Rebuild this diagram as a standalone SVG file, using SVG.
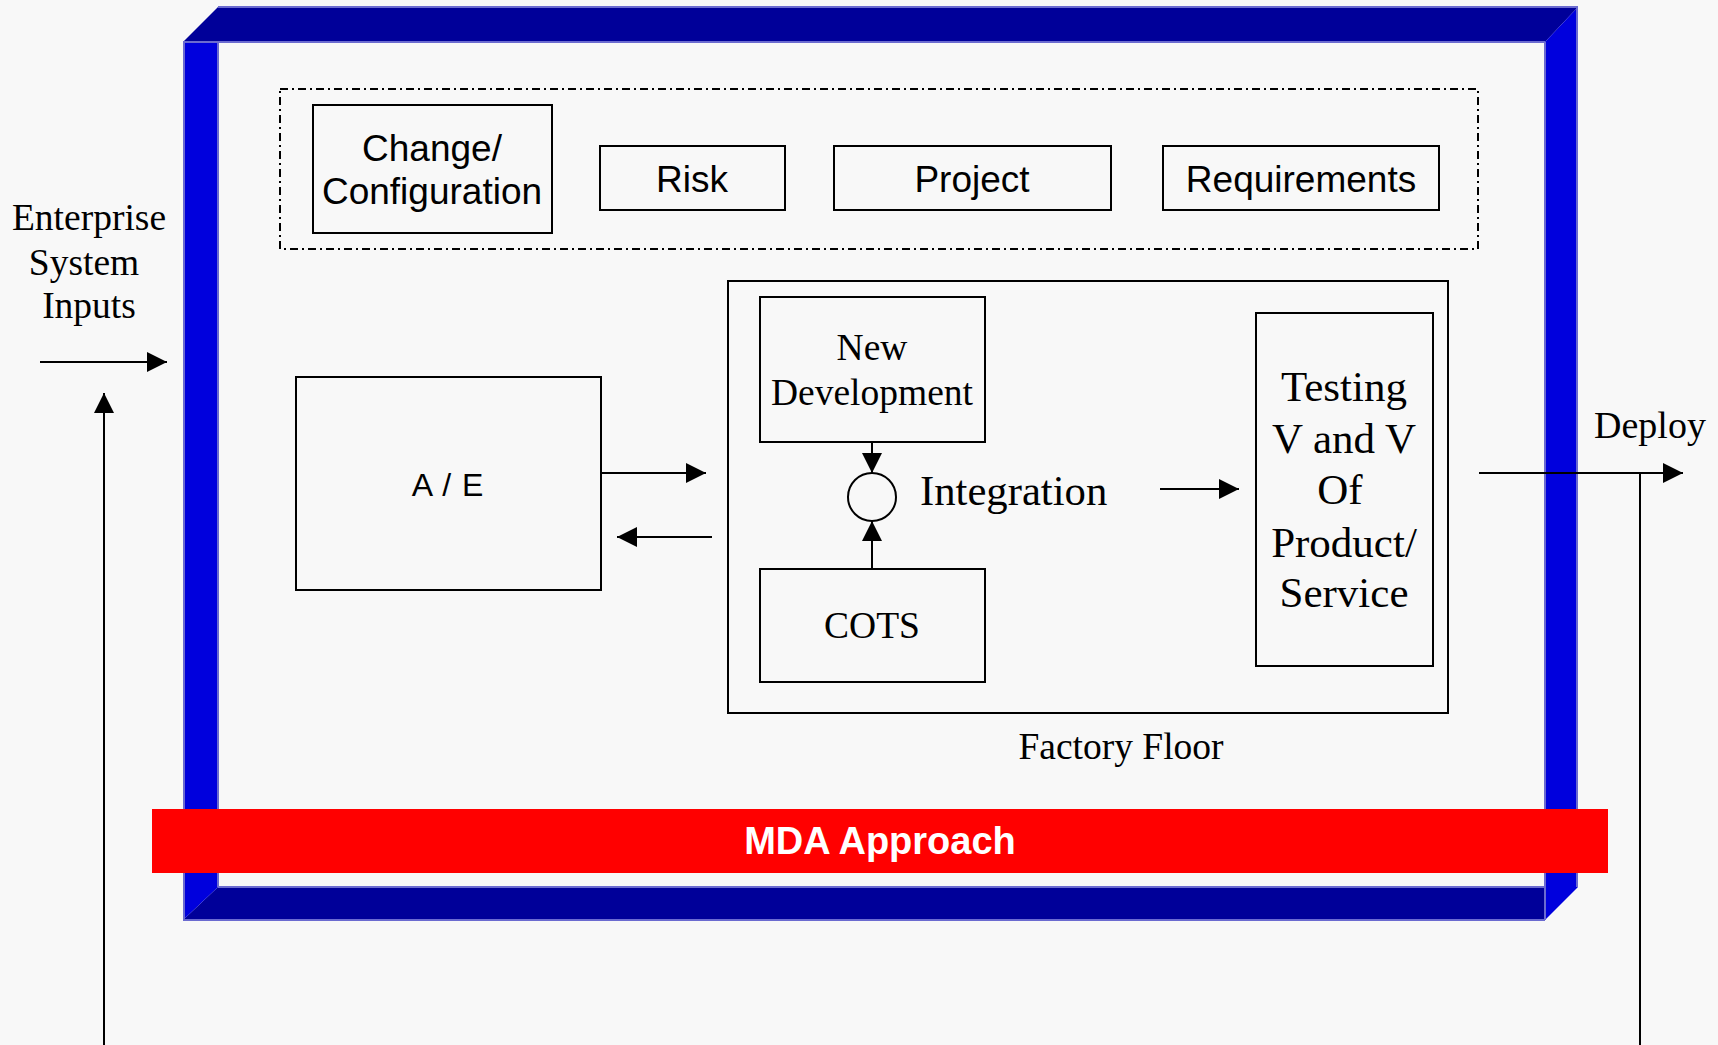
<svg xmlns="http://www.w3.org/2000/svg" width="1718" height="1045" viewBox="0 0 1718 1045">
  <style>
    .box { fill: none; stroke: #000; stroke-width: 2; }
    .wire { fill: none; stroke: #000; stroke-width: 2; }
    .sans { font-family: "Liberation Sans", Arial, sans-serif; fill: #000; }
    .serif { font-family: "Liberation Serif", "Times New Roman", serif; fill: #000; }
    .mid { text-anchor: middle; }
    .edge { stroke: #6b6bd0; stroke-width: 2; }
  </style>
  <defs>
    <marker id="arrow" viewBox="0 0 20 20" refX="20" refY="10" markerWidth="20" markerHeight="20" markerUnits="userSpaceOnUse" orient="auto">
      <path d="M0,0 L20,10 L0,20 Z" fill="#000"/>
    </marker>
  </defs>

  <rect x="0" y="0" width="1718" height="1045" fill="#f8f8f8"/>

  <!-- bevelled blue frame -->
  <g id="frame">
    <polygon points="183,42 218,7 1578,7 1545,42" fill="#000099"/>
    <polygon points="218,887 1545,887 1545,920 183,920" fill="#000099"/>
    <polygon points="183,42 218,42 218,887 183,920" fill="#0000dd"/>
    <polygon points="1545,42 1578,7 1578,887 1545,920" fill="#0000dd"/>
    <line class="edge" x1="183" y1="42" x2="1545" y2="42"/>
    <line class="edge" x1="184" y1="42" x2="184" y2="921"/>
    <line class="edge" x1="183" y1="920" x2="1545" y2="920"/>
    <line class="edge" x1="1545" y1="42" x2="1545" y2="920"/>
    <line class="edge" x1="1577" y1="7" x2="1577" y2="887"/>
    <line class="edge" x1="218" y1="7" x2="1578" y2="7"/>
    <line class="edge" x1="218" y1="42" x2="218" y2="887"/>
    <line class="edge" x1="218" y1="887" x2="1545" y2="887"/>
  </g>

  <!-- management group -->
  <g id="management">
    <rect x="280" y="89" width="1198" height="160" fill="none" stroke="#000" stroke-width="2" stroke-dasharray="8 4 2 4"/>
  </g>
  <g id="change-configuration">
    <rect class="box" x="313" y="105" width="239" height="128"/>
    <text class="sans mid" x="432" y="161" font-size="37">Change/</text>
    <text class="sans mid" x="432" y="204" font-size="37">Configuration</text>
  </g>
  <g id="risk">
    <rect class="box" x="600" y="146" width="185" height="64"/>
    <text class="sans mid" x="692" y="192" font-size="37">Risk</text>
  </g>
  <g id="project">
    <rect class="box" x="834" y="146" width="277" height="64"/>
    <text class="sans mid" x="972" y="192" font-size="37">Project</text>
  </g>
  <g id="requirements">
    <rect class="box" x="1163" y="146" width="276" height="64"/>
    <text class="sans mid" x="1301" y="192" font-size="37">Requirements</text>
  </g>

  <!-- inputs label -->
  <g id="enterprise-inputs">
    <text class="serif mid" x="89" y="230" font-size="37.5">Enterprise</text>
    <text class="serif mid" x="84" y="275" font-size="37.5">System</text>
    <text class="serif mid" x="89" y="318" font-size="37.5">Inputs</text>
  </g>

  <g id="ae">
    <rect class="box" x="296" y="377" width="305" height="213"/>
    <text class="sans mid" x="448" y="496" font-size="32" letter-spacing="1">A / E</text>
  </g>

  <!-- factory floor -->
  <g id="factory-floor">
    <rect class="box" x="728" y="281" width="720" height="432"/>
    <text class="serif mid" x="1121" y="759" font-size="37.5">Factory Floor</text>
  </g>
  <g id="new-development">
    <rect class="box" x="760" y="297" width="225" height="145"/>
    <text class="serif mid" x="872" y="360" font-size="37.5">New</text>
    <text class="serif mid" x="872" y="405" font-size="37.5">Development</text>
  </g>
  <g id="integration">
    <circle cx="872" cy="497" r="24" fill="none" stroke="#000" stroke-width="2"/>
    <text class="serif" x="920" y="505" font-size="42.7">Integration</text>
  </g>
  <g id="cots">
    <rect class="box" x="760" y="569" width="225" height="113"/>
    <text class="serif mid" x="872" y="638" font-size="37.5">COTS</text>
  </g>
  <g id="testing">
    <rect class="box" x="1256" y="313" width="177" height="353"/>
    <text class="serif mid" x="1344" y="401" font-size="43">Testing</text>
    <text class="serif mid" x="1344" y="453" font-size="43">V and V</text>
    <text class="serif mid" x="1340" y="504" font-size="43">Of</text>
    <text class="serif mid" x="1344" y="557" font-size="43">Product/</text>
    <text class="serif mid" x="1344" y="607" font-size="43">Service</text>
  </g>

  <g id="deploy">
    <text class="serif mid" x="1650" y="438" font-size="38">Deploy</text>
  </g>

  <!-- MDA band -->
  <g id="mda-approach">
    <rect x="152" y="809" width="1456" height="64" fill="#ff0000"/>
    <text x="880" y="854" font-family="Liberation Sans, Arial, sans-serif" font-weight="bold" font-size="38" fill="#fff" text-anchor="middle">MDA Approach</text>
  </g>

  <!-- connectors -->
  <g id="connectors">
    <line class="wire" x1="40" y1="362" x2="167" y2="362" marker-end="url(#arrow)"/>
    <line class="wire" x1="104" y1="1045" x2="104" y2="393" marker-end="url(#arrow)"/>
    <line class="wire" x1="601" y1="473" x2="706" y2="473" marker-end="url(#arrow)"/>
    <line class="wire" x1="712" y1="537" x2="617" y2="537" marker-end="url(#arrow)"/>
    <line class="wire" x1="872" y1="442" x2="872" y2="473" marker-end="url(#arrow)"/>
    <line class="wire" x1="872" y1="569" x2="872" y2="521" marker-end="url(#arrow)"/>
    <line class="wire" x1="1160" y1="489" x2="1239" y2="489" marker-end="url(#arrow)"/>
    <line class="wire" x1="1479" y1="473" x2="1683" y2="473" marker-end="url(#arrow)"/>
    <line class="wire" x1="1640" y1="473" x2="1640" y2="1045"/>
  </g>
</svg>
